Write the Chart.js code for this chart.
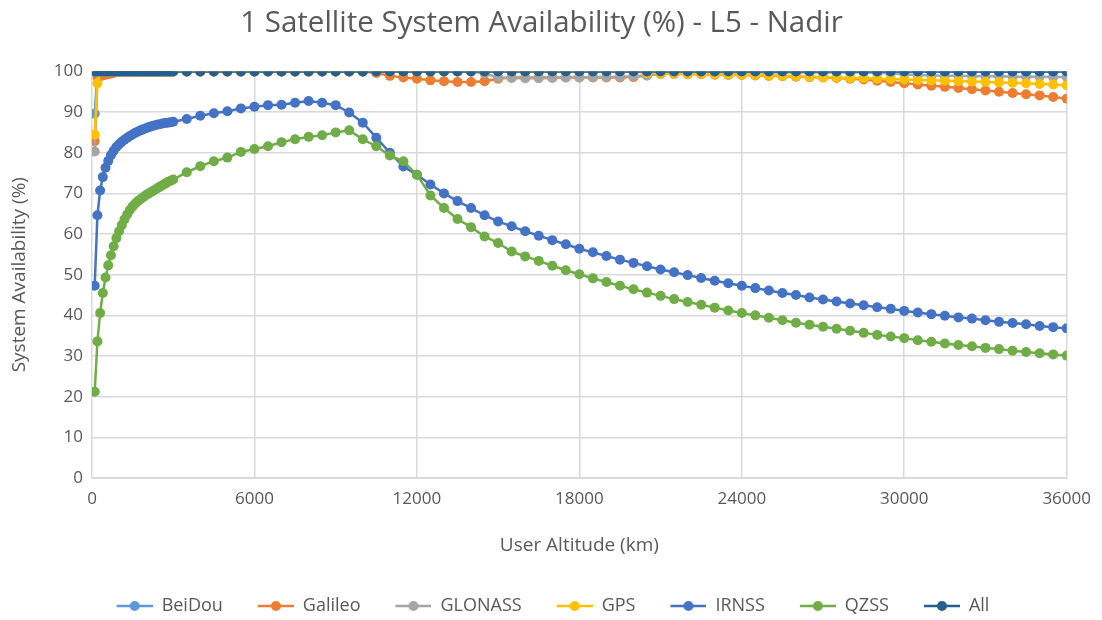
<!DOCTYPE html>
<html>
<head>
<meta charset="utf-8">
<script src="https://cdn.jsdelivr.net/npm/chart.js@4.4.1/dist/chart.umd.min.js"></script>
<style>
  html, body { margin: 0; padding: 0; background: #fff; }
  #wrap { width: 1102px; height: 620px; }
</style>
</head>
<body>
<div id="wrap"><canvas id="chart" width="1102" height="620"></canvas></div>
<script>
// user altitude (km): 100 km steps to 3000, then 500 km steps
const altitudes = [
  100, 200, 300, 400, 500, 600, 700, 800, 900, 1000,
  1100, 1200, 1300, 1400, 1500, 1600, 1700, 1800, 1900, 2000,
  2100, 2200, 2300, 2400, 2500, 2600, 2700, 2800, 2900, 3000,
  3500, 4000, 4500, 5000, 5500, 6000, 6500, 7000, 7500, 8000,
  8500, 9000, 9500, 10000, 10500, 11000, 11500, 12000, 12500, 13000,
  13500, 14000, 14500, 15000, 15500, 16000, 16500, 17000, 17500, 18000,
  18500, 19000, 19500, 20000, 20500, 21000, 21500, 22000, 22500, 23000,
  23500, 24000, 24500, 25000, 25500, 26000, 26500, 27000, 27500, 28000,
  28500, 29000, 29500, 30000, 30500, 31000, 31500, 32000, 32500, 33000,
  33500, 34000, 34500, 35000, 35500, 36000
];

const beidou = [
  89.6, 100, 100, 100, 100, 100, 100, 100, 100, 100,
  100, 100, 100, 100, 100, 100, 100, 100, 100, 100,
  100, 100, 100, 100, 100, 100, 100, 100, 100, 100,
  100, 100, 100, 100, 100, 100, 100, 100, 100, 100,
  100, 100, 100, 100, 100, 100, 100, 100, 100, 100,
  100, 100, 100, 100, 100, 100, 100, 100, 100, 100,
  100, 100, 100, 100, 100, 100, 100, 100, 100, 100,
  100, 100, 100, 100, 100, 100, 100, 100, 100, 100,
  100, 100, 100, 100, 100, 100, 100, 100, 100, 100,
  100, 100, 100, 100, 100, 100
];

const galileo = [
  82.8, 98.6, 98.8, 99.0, 99.2, 99.3, 99.5, 99.6, 100, 100,
  100, 100, 100, 100, 100, 100, 100, 100, 100, 100,
  100, 100, 100, 100, 100, 100, 100, 100, 100, 100,
  100, 100, 100, 100, 100, 100, 100, 100, 100, 100,
  100, 100, 100, 100, 99.6, 98.9, 98.5, 98.2, 97.8, 97.6,
  97.4, 97.4, 97.6, 98.2, 98.5, 98.5, 98.5, 98.5, 98.5, 98.5,
  98.5, 98.5, 98.5, 98.6, 99.0, 99.4, 99.4, 99.3, 99.3, 99.2,
  99.1, 99.1, 99.0, 98.9, 98.8, 98.7, 98.6, 98.5, 98.4, 98.2,
  98.0, 97.7, 97.4, 97.1, 96.8, 96.5, 96.2, 95.9, 95.6, 95.3,
  95.0, 94.7, 94.4, 94.1, 93.7, 93.3
];

const glonass = [
  80.3, 100, 100, 100, 100, 100, 100, 100, 100, 100,
  100, 100, 100, 100, 100, 100, 100, 100, 100, 100,
  100, 100, 100, 100, 100, 100, 100, 100, 100, 100,
  100, 100, 100, 100, 100, 100, 100, 100, 100, 100,
  100, 100, 100, 100, 100, 100, 100, 100, 100, 100,
  100, 100, 99.5, 98.5, 98.4, 98.3, 98.3, 98.4, 98.5, 98.5,
  98.6, 98.6, 98.7, 98.8, 99.0, 99.5, 99.7, 99.7, 99.7, 99.7,
  99.7, 99.7, 99.7, 99.7, 99.7, 99.7, 99.7, 99.7, 99.7, 99.7,
  99.7, 99.6, 99.5, 99.3, 99.1, 99.0, 98.9, 98.9, 98.8, 98.8,
  98.8, 98.7, 98.7, 98.7, 98.6, 98.6
];

const gps = [
  84.5, 97.1, 100, 100, 100, 100, 100, 100, 100, 100,
  100, 100, 100, 100, 100, 100, 100, 100, 100, 100,
  100, 100, 100, 100, 100, 100, 100, 100, 100, 100,
  100, 100, 100, 100, 100, 100, 100, 100, 100, 100,
  100, 100, 100, 100, 100, 100, 100, 100, 100, 100,
  100, 100, 100, 100, 100, 100, 100, 100, 100, 100,
  100, 100, 100, 100, 99.6, 99.5, 99.5, 99.4, 99.4, 99.3,
  99.2, 99.2, 99.1, 99.0, 98.9, 98.8, 98.7, 98.6, 98.5, 98.4,
  98.3, 98.2, 98.1, 98.0, 97.9, 97.8, 97.7, 97.6, 97.5, 97.4,
  97.3, 97.2, 97.1, 96.9, 96.8, 96.6
];

const irnss = [
  47.3, 64.6, 70.7, 74.0, 76.3, 78.0, 79.4, 80.5, 81.4, 82.1,
  82.7, 83.2, 83.7, 84.1, 84.5, 84.9, 85.2, 85.5, 85.8, 86.0,
  86.3, 86.5, 86.7, 86.9, 87.0, 87.2, 87.3, 87.4, 87.5, 87.6,
  88.3, 89.1, 89.7, 90.2, 90.9, 91.3, 91.7, 91.8, 92.3, 92.7,
  92.3, 91.7, 89.9, 87.4, 83.7, 80.0, 76.6, 74.6, 72.2, 70.0,
  68.1, 66.4, 64.6, 63.1, 61.9, 60.7, 59.6, 58.5, 57.5, 56.4,
  55.5, 54.6, 53.7, 52.9, 52.1, 51.3, 50.6, 49.9, 49.2, 48.5,
  47.9, 47.3, 46.7, 46.1, 45.5, 45.0, 44.4, 43.9, 43.4, 42.9,
  42.5, 42.0, 41.6, 41.1, 40.7, 40.3, 39.9, 39.5, 39.2, 38.8,
  38.4, 38.1, 37.8, 37.4, 37.1, 36.8
];

const qzss = [
  21.2, 33.6, 40.6, 45.5, 49.3, 52.3, 54.8, 57.0, 59.0, 60.7,
  62.2, 63.6, 64.8, 65.9, 66.8, 67.5, 68.1, 68.6, 69.1, 69.6,
  70.0, 70.4, 70.8, 71.2, 71.6, 72.0, 72.4, 72.8, 73.1, 73.4,
  75.2, 76.7, 77.9, 78.8, 80.2, 80.9, 81.6, 82.6, 83.3, 83.9,
  84.3, 85.0, 85.5, 83.3, 81.6, 79.3, 77.9, 74.6, 69.5, 66.4,
  63.7, 61.7, 59.4, 57.8, 55.7, 54.5, 53.4, 52.2, 51.1, 50.1,
  49.1, 48.2, 47.3, 46.4, 45.6, 44.8, 44.0, 43.3, 42.6, 41.9,
  41.2, 40.6, 40.0, 39.4, 38.8, 38.2, 37.7, 37.2, 36.7, 36.2,
  35.7, 35.2, 34.8, 34.4, 33.9, 33.5, 33.1, 32.7, 32.4, 32.0,
  31.7, 31.3, 31.0, 30.7, 30.4, 30.1
];

const all = [
  100, 100, 100, 100, 100, 100, 100, 100, 100, 100,
  100, 100, 100, 100, 100, 100, 100, 100, 100, 100,
  100, 100, 100, 100, 100, 100, 100, 100, 100, 100,
  100, 100, 100, 100, 100, 100, 100, 100, 100, 100,
  100, 100, 100, 100, 100, 100, 100, 100, 100, 100,
  100, 100, 100, 100, 100, 100, 100, 100, 100, 100,
  100, 100, 100, 100, 100, 100, 100, 100, 100, 100,
  100, 100, 100, 100, 100, 100, 100, 100, 100, 100,
  100, 100, 100, 100, 100, 100, 100, 100, 100, 100,
  100, 100, 100, 100, 100, 100
];

const seriesNames = ['BeiDou', 'Galileo', 'GLONASS', 'GPS', 'IRNSS', 'QZSS', 'All'];
const seriesValues = [beidou, galileo, glonass, gps, irnss, qzss, all];
const seriesColors = ['#5B9BD5', '#ED7D31', '#A5A5A5', '#FFC000', '#4472C4', '#70AD47', '#255E91'];

const xTicks = [0, 6000, 12000, 18000, 24000, 30000, 36000];

const FONT = "'Open Sans', 'Liberation Sans', sans-serif";
const GREY = '#595959';
const MARK_GAP = 23; // empty space left of each legend marker

// line + dot marker for the legend, with a blank gap on its left
function legendMarker(color) {
  const c = document.createElement('canvas');
  c.width = MARK_GAP + 36; c.height = 14;
  const g = c.getContext('2d');
  g.strokeStyle = color; g.lineWidth = 2.5;
  g.beginPath(); g.moveTo(MARK_GAP, 7); g.lineTo(MARK_GAP + 36, 7); g.stroke();
  g.fillStyle = color;
  g.beginPath(); g.arc(MARK_GAP + 18, 7, 5, 0, Math.PI * 2); g.fill();
  return c;
}

const datasets = seriesNames.map((name, i) => ({
  label: name,
  data: altitudes.map((a, j) => ({ x: a, y: seriesValues[i][j] })),
  borderColor: seriesColors[i],
  backgroundColor: seriesColors[i],
  borderWidth: 2.5,
  pointRadius: 5,
  pointHoverRadius: 5,
  pointBorderWidth: 0,
  tension: 0,
  order: seriesNames.length - i
}));

const ctx = document.getElementById('chart').getContext('2d');
new Chart(ctx, {
  type: 'line',
  data: { datasets: datasets },
  options: {
    responsive: false,
    animation: false,
    layout: { padding: { left: 14, right: 33, top: 6, bottom: -5 } },
    plugins: {
      title: {
        display: true,
        text: '1 Satellite System Availability (%) - L5 - Nadir',
        color: GREY,
        font: { family: FONT, size: 29.5, weight: 'normal' },
        padding: { top: 0, bottom: 30 }
      },
      legend: {
        position: 'bottom',
        labels: {
          color: GREY,
          font: { family: FONT, size: 18 },
          usePointStyle: true,
          pointStyleWidth: MARK_GAP + 36,
          boxHeight: 12,
          padding: 12,
          generateLabels: chart => chart.data.datasets.map((d, i) => ({
            text: d.label,
            fillStyle: d.borderColor,
            strokeStyle: d.borderColor,
            fontColor: GREY,
            pointStyle: legendMarker(d.borderColor),
            hidden: false,
            datasetIndex: i
          }))
        }
      },
      tooltip: { enabled: false }
    },
    scales: {
      x: {
        type: 'linear',
        min: 0,
        max: 36000,
        afterBuildTicks: s => { s.ticks = xTicks.map(v => ({ value: v })); },
        afterFit: s => { s.height = 107; },
        ticks: {
          color: GREY, font: { family: FONT, size: 17 }, padding: 11, maxRotation: 0,
          callback: v => String(v)
        },
        grid: { color: '#D9D9D9', lineWidth: 1.5, drawTicks: false },
        border: { color: '#D9D9D9' },
        title: {
          display: true,
          text: 'User Altitude (km)',
          color: GREY,
          font: { family: FONT, size: 19 },
          padding: { top: 0, bottom: 28 }
        }
      },
      y: {
        min: 0,
        max: 100,
        afterFit: s => { s.width = 78; },
        ticks: {
          stepSize: 10, color: GREY, font: { family: FONT, size: 17 }, padding: 9,
          callback: v => String(v)
        },
        grid: { color: '#D9D9D9', lineWidth: 1.5, drawTicks: false },
        border: { display: false },
        title: {
          display: true,
          text: 'System Availability (%)',
          color: GREY,
          font: { family: FONT, size: 19 },
          padding: { top: -6, bottom: 0 }
        }
      }
    }
  }
});
</script>
</body>
</html>
